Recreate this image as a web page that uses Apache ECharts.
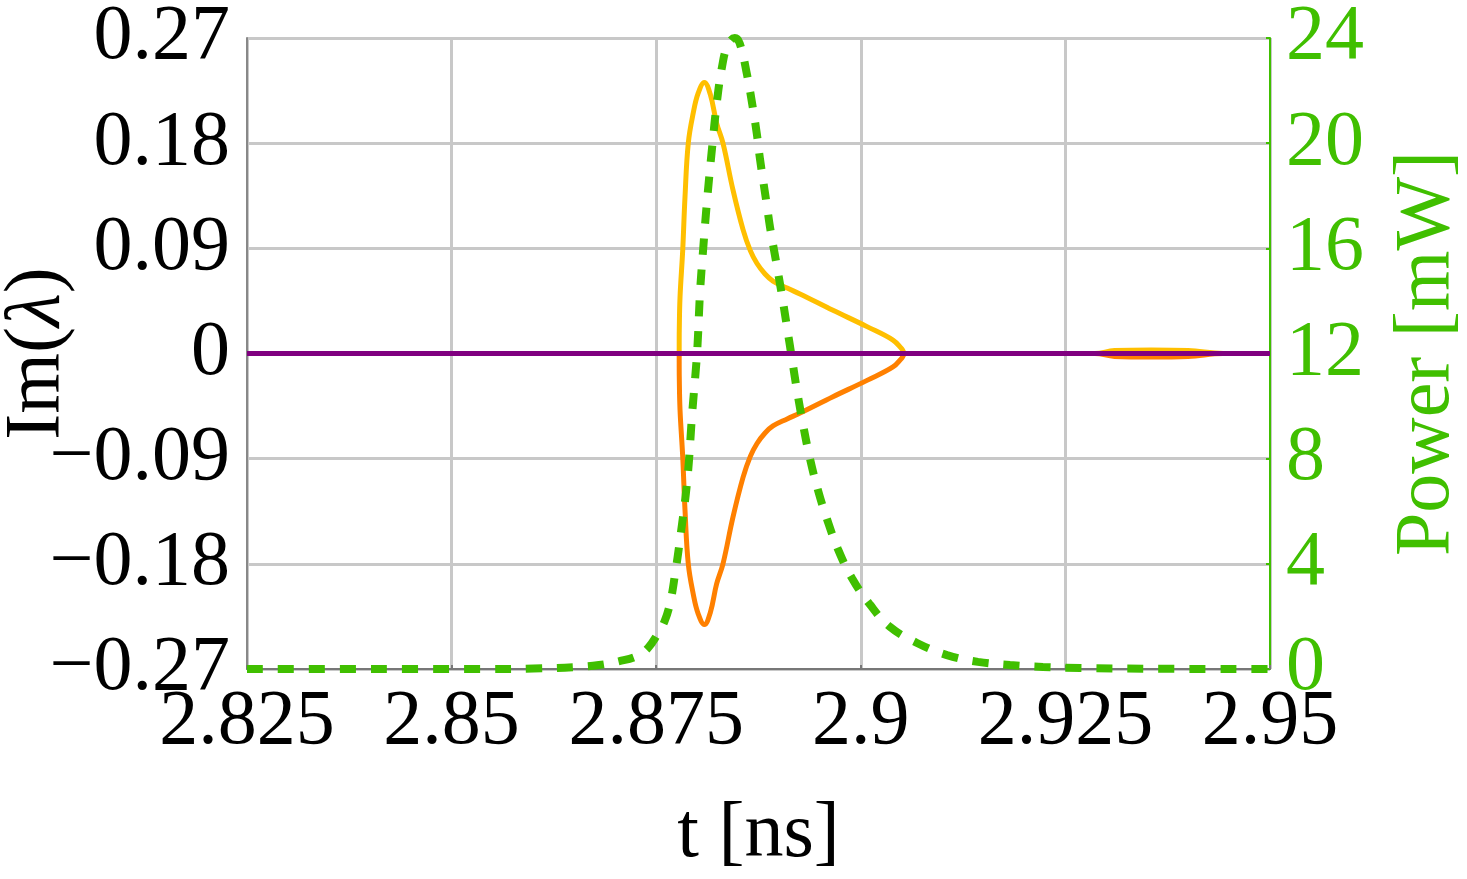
<!DOCTYPE html>
<html>
<head>
<meta charset="utf-8">
<script src="https://cdn.jsdelivr.net/npm/echarts@6/dist/echarts.min.js"></script>
<style>
html,body{margin:0;padding:0;background:#fff;}
#chart{width:1467px;height:879px;}
</style>
</head>
<body>
<div id="chart"></div>
<script>
// ---- data ----
const xTicks = [2.825, 2.85, 2.875, 2.9, 2.925, 2.95];
const leftTicks = [-0.27, -0.18, -0.09, 0, 0.09, 0.18, 0.27];
const rightTicks = [0, 4, 8, 12, 16, 20, 24];

// Im(lambda) branch 1 (yellow), [t, Im]
const imUpper = [
  [2.825,0],[2.8778,0],[2.87782,0.020],[2.87791,0.048],[2.87824,0.0885],[2.87852,0.134],
  [2.87892,0.180],[2.87953,0.206],[2.88014,0.223],[2.88088,0.232],[2.88160,0.222],
  [2.88239,0.197],[2.88316,0.180],[2.88438,0.140],[2.88561,0.106],[2.88650,0.088],
  [2.88732,0.077],[2.88830,0.068],[2.88927,0.062],[2.89100,0.056],[2.89257,0.051],
  [2.89660,0.037],[2.90076,0.023],[2.90393,0.0115],[2.9050,0.004],[2.9055,0],
  [2.9286,0],[2.9310,0.0025],[2.9355,0.003],[2.9400,0.0025],[2.9443,0],[2.95,0]
];
// Im(lambda) branch 2 (orange), [t, Im]
const imLower = [
  [2.825,0],[2.8778,0],[2.87782,-0.020],[2.87791,-0.048],[2.87824,-0.0885],[2.87852,-0.134],
  [2.87892,-0.180],[2.87953,-0.206],[2.88014,-0.223],[2.88088,-0.232],[2.88160,-0.222],
  [2.88239,-0.197],[2.88316,-0.180],[2.88438,-0.140],[2.88561,-0.106],[2.88650,-0.088],
  [2.88732,-0.077],[2.88830,-0.068],[2.88927,-0.062],[2.89100,-0.056],[2.89257,-0.051],
  [2.89660,-0.037],[2.90076,-0.023],[2.90393,-0.0115],[2.9050,-0.004],[2.9055,0],
  [2.9286,0],[2.9310,-0.0025],[2.9355,-0.003],[2.9400,-0.0025],[2.9443,0],[2.95,0]
];
// Im(lambda) branch 3 (purple), [t, Im]
const imZero = [[2.825,0],[2.95,0]];
// Power [mW] (green dashed), [t, P]
const power = [
  [2.825,0],[2.855,0],[2.860,0.02],[2.865,0.07],[2.868,0.15],[2.8705,0.3],[2.8727,0.5],
  [2.8740,0.8],[2.8751,1.29],[2.8760,1.8],[2.8767,2.51],[2.8773,3.6],[2.8779,4.91],
  [2.8788,7.19],[2.8794,9.74],[2.8800,12.06],[2.88035,14.3],[2.88072,15.9],[2.88121,17.8],
  [2.88182,19.8],[2.88243,21.6],[2.88304,22.9],[2.8837,23.7],[2.8846,24.0],[2.8852,23.8],
  [2.8861,22.6],[2.88683,21.3],[2.88732,20.3],[2.88768,19.4],[2.88854,17.6],[2.88891,16.8],
  [2.88976,15.3],[2.89037,14.2],[2.89098,13.0],[2.89159,11.8],[2.8922,10.6],[2.89294,9.3],
  [2.89379,8.0],[2.89477,6.8],[2.89587,5.7],[2.89722,4.55],[2.89893,3.45],[2.90112,2.45],
  [2.90357,1.6],[2.90687,0.99],[2.91053,0.53],[2.91432,0.27],[2.91823,0.15],[2.92226,0.08],
  [2.9268,0.04],[2.935,0.01],[2.95,0]
];

const FONT = 'Liberation Serif';
const GREEN = '#40BF00';
const chart = echarts.init(document.getElementById('chart'));
function fmtX(v){ return String(parseFloat(v.toFixed(3))); }
function fmtL(v){ const r = parseFloat(v.toFixed(2)); if (r === 0) return '0'; return (r < 0 ? '\u2212' : '') + String(Math.abs(r)); }

chart.setOption({
  animation: false,
  backgroundColor: '#fff',
  grid: {left: 247, right: 197, top: 38, bottom: 210, containLabel: false, outerBoundsMode: 'none'},
  xAxis: {
    type: 'value', min: xTicks[0], max: xTicks[xTicks.length-1], interval: 0.025,
    name: 't [ns]', nameLocation: 'middle', nameGap: 128, nameMoveOverlap: false,
    nameTextStyle: {fontFamily: FONT, fontSize: 78, color: '#000'},
    axisLine: {show: true, onZero: false, lineStyle: {color: '#777', width: 2}},
    axisTick: {show: true, inside: true, length: 4, lineStyle: {color: '#777', width: 2}},
    splitLine: {show: true, lineStyle: {color: '#c8c8c8', width: 3}},
    axisLabel: {fontFamily: FONT, fontSize: 78, color: '#000', margin: 15, formatter: fmtX, showMinLabel: true, showMaxLabel: true}
  },
  yAxis: [{
    type: 'value', min: leftTicks[0], max: leftTicks[leftTicks.length-1], interval: 0.09,
    position: 'left',
    name: 'Im({i|\u03bb})', nameLocation: 'middle', nameGap: 170, nameRotate: 90, nameMoveOverlap: false,
    nameTextStyle: {fontFamily: FONT, fontSize: 78, color: '#000',
      rich: {i: {fontFamily: FONT, fontSize: 78, fontStyle: 'italic', color: '#000'}}},
    axisLine: {show: true, onZero: false, lineStyle: {color: '#888', width: 2}},
    axisTick: {show: false},
    splitLine: {show: true, lineStyle: {color: '#c8c8c8', width: 3}},
    axisLabel: {fontFamily: FONT, fontSize: 78, color: '#000', margin: 17, formatter: fmtL}
  }, {
    type: 'value', min: rightTicks[0], max: rightTicks[rightTicks.length-1], interval: 4,
    position: 'right',
    name: 'Power [mW]', nameLocation: 'middle', nameGap: 119, nameRotate: 90, nameMoveOverlap: false,
    nameTextStyle: {fontFamily: FONT, fontSize: 78, color: GREEN},
    axisLine: {show: true, onZero: false, lineStyle: {color: GREEN, width: 2}},
    axisTick: {show: true, inside: true, length: 4, lineStyle: {color: GREEN, width: 2}},
    splitLine: {show: false},
    axisLabel: {fontFamily: FONT, fontSize: 78, color: GREEN, margin: 16}
  }],
  series: [
    {type: 'line', name: 'Im1', data: imUpper, yAxisIndex: 0, showSymbol: false, smooth: 0.4,
     lineStyle: {color: '#FFBF00', width: 5}, z: 3},
    {type: 'line', name: 'Im2', data: imLower, yAxisIndex: 0, showSymbol: false, smooth: 0.4,
     lineStyle: {color: '#FF8000', width: 5}, z: 3},
    {type: 'line', name: 'Power', data: power, yAxisIndex: 1, showSymbol: false, smooth: 0.4,
     lineStyle: {color: GREEN, width: 8, type: [16, 15]}, z: 4},
    {type: 'line', name: 'Im3', data: imZero, yAxisIndex: 0, showSymbol: false,
     lineStyle: {color: '#800080', width: 5}, z: 5}
  ]
});
</script>
</body>
</html>
